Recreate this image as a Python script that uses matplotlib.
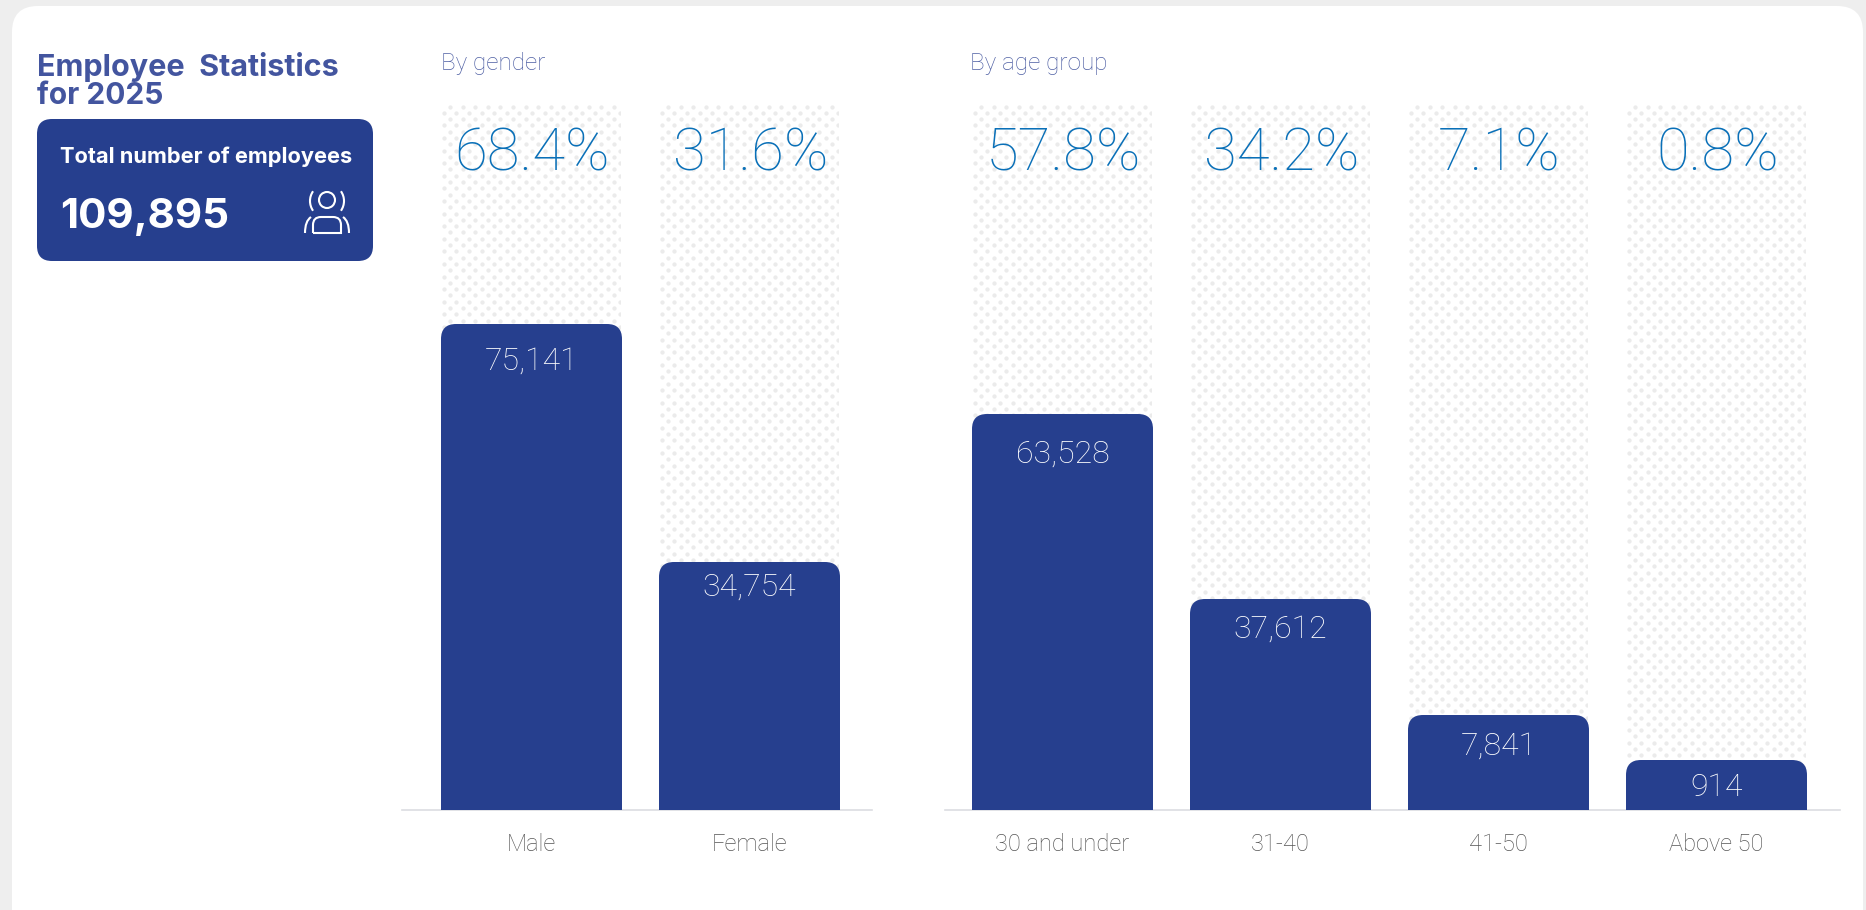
import numpy as np
import matplotlib
matplotlib.use("Agg")
import matplotlib.pyplot as plt
from matplotlib.patches import FancyBboxPatch, Circle, Arc, PathPatch
from matplotlib.path import Path

W, H = 1866, 910

TOTAL = 109895

gender_labels = ["Male", "Female"]
gender_values = [75141, 34754]
gender_pct = ["68.4%", "31.6%"]

age_labels = ["30 and under", "31-40", "41-50", "Above 50"]
age_values = [63528, 37612, 7841, 914]
age_pct = ["57.8%", "34.2%", "7.1%", "0.8%"]

# the bars are not strictly proportional, each panel gets its own value -> pixel scale
gender_scale_vals = [0, 34754, 75141, TOTAL]
gender_scale_px = [0, 248, 486, 706]
age_scale_vals = [0, 914, 7841, 37612, 63528, TOTAL]
age_scale_px = [0, 50, 95, 211, 396, 706]

# distance of the white number below the bar top, px
gender_label_drop = [37, 25]
age_label_drop = [40, 30, 31, 28]

NAVY = "#263f8e"
TITLE = "#43559f"
BLUE = "#0a70b8"
DOT = "#ebebeb"
GREY = "#555555"
HEAVY = "Inter"
LIGHT = "Roboto"

plt.rcParams["font.family"] = [LIGHT, "DejaVu Sans"]

fig = plt.figure(figsize=(W / 100, H / 100), dpi=100, facecolor="#eeeeee")

# pixel canvas for the card, header and KPI box
bg = fig.add_axes([0, 0, 1, 1])
bg.set_xlim(0, W)
bg.set_ylim(H, 0)
bg.axis("off")

bg.add_patch(FancyBboxPatch((12, 6), 1851, 930, boxstyle="round,pad=0,rounding_size=26",
                            fc="white", ec="none"))

bg.text(37, 76, "Employee  Statistics", color=TITLE, fontsize=22, family=HEAVY, fontweight="bold", va="baseline")
bg.text(37, 104, "for 2025", color=TITLE, fontsize=21.5, family=HEAVY, fontweight="bold", va="baseline")

bg.add_patch(FancyBboxPatch((37, 119), 336, 142, boxstyle="round,pad=0,rounding_size=15",
                            fc=NAVY, ec="none"))
bg.text(60, 163, "Total number of employees", color="white", fontsize=15.7, family=HEAVY, fontweight="bold", va="baseline")
bg.text(60, 228, f"{TOTAL:,}", color="white", fontsize=30.3, family=HEAVY, fontweight="bold", va="baseline")

# people icon
lw = 1.5
bg.add_patch(Circle((327, 200), 8, fc="none", ec="white", lw=lw))
bg.add_patch(Arc((327, 201), 34, 34, theta1=-35, theta2=35, ec="white", lw=lw))
bg.add_patch(Arc((327, 201), 34, 34, theta1=145, theta2=215, ec="white", lw=lw))
body = Path([(313, 233), (313, 225), (313, 217), (321, 217), (333, 217), (341, 217), (341, 225),
             (341, 233), (313, 233)],
            [Path.MOVETO, Path.LINETO, Path.CURVE3, Path.CURVE3, Path.LINETO, Path.CURVE3, Path.CURVE3,
             Path.LINETO, Path.LINETO])
bg.add_patch(PathPatch(body, fc="none", ec="white", lw=lw))
for x0, x1 in [(305, 311), (349, 343)]:
    arm = Path([(x0, 233), (x0, 221), (x1, 217)], [Path.MOVETO, Path.CURVE3, Path.CURVE3])
    bg.add_patch(PathPatch(arm, fc="none", ec="white", lw=lw))

bg.text(441, 70, "By gender", color="#4f60a4", fontsize=17.5, fontweight="light", va="baseline")
bg.text(970, 70, "By age group", color="#4f60a4", fontsize=17.5, fontweight="light", va="baseline")


def draw_panel(x0, x1, first_center, labels, values, pct, scale_vals, scale_px, drops):
    top, base = 104, 810
    pitch, bar_w = 218, 181
    ax = fig.add_axes([x0 / W, 1 - base / H, (x1 - x0) / W, (base - top) / H])
    ax.patch.set_alpha(0)

    ax.set_yscale("function", functions=(lambda v: np.interp(v, scale_vals, scale_px),
                                         lambda p: np.interp(p, scale_px, scale_vals)))
    ax.set_ylim(0, TOTAL)
    ax.set_xlim((x0 - first_center) / pitch, (x1 - first_center) / pitch)

    xs = np.arange(len(values))
    width = bar_w / pitch
    backs = ax.bar(xs, [TOTAL] * len(values), width=width, color="none", zorder=1)
    bars = ax.bar(xs, values, width=width, color=NAVY, zorder=3)

    for i, (back, bar) in enumerate(zip(backs, bars)):
        cx = first_center + i * pitch
        left = cx - bar_w / 2

        # staggered dot texture, clipped to the full-height column
        col, row = 12.6, 6.3
        gx, gy = np.meshgrid(np.arange(left - 3.6, left + bar_w, col), np.arange(top + 2.5, base, row * 2))
        dots_x = np.concatenate([gx.ravel(), gx.ravel() + col / 2])
        dots_y = np.concatenate([gy.ravel(), gy.ravel() + row])
        dots = bg.scatter(dots_x, dots_y, s=9.5, color=DOT, linewidths=0, zorder=1)
        dots.set_clip_path(FancyBboxPatch((left, top), bar_w - 1, base - top, boxstyle="square,pad=0",
                                          transform=bg.transData))

        # round the top corners of the bar
        _, bar_top = bg.transData.inverted().transform(ax.transData.transform((i, values[i])))
        bar.set_clip_path(FancyBboxPatch((left, bar_top), bar_w, base - bar_top + 30,
                                         boxstyle="round,pad=0,rounding_size=15", transform=bg.transData))

        ax.annotate(f"{values[i]:,}", (i, values[i]), xytext=(0, -drops[i]), textcoords="offset pixels",
                    ha="center", va="center", color="white", fontsize=23, fontweight="light", zorder=5)
        bg.text(cx + 1, 154, pct[i], ha="center", va="center", color=BLUE, fontsize=43, fontweight="light", zorder=2)

    ax.set_xticks(xs, labels, fontweight="light")
    ax.set_yticks([])
    ax.minorticks_off()
    ax.tick_params(axis="x", length=0, pad=16.5, labelsize=17, labelcolor=GREY)
    for side in ["top", "left", "right"]:
        ax.spines[side].set_visible(False)
    ax.spines["bottom"].set_color("#dcdde2")
    ax.spines["bottom"].set_linewidth(1.2)


draw_panel(402, 872, 531.5, gender_labels, gender_values, gender_pct,
           gender_scale_vals, gender_scale_px, gender_label_drop)
draw_panel(945, 1840, 1062.5, age_labels, age_values, age_pct,
           age_scale_vals, age_scale_px, age_label_drop)

fig.savefig("out.png", dpi=100, facecolor=fig.get_facecolor())
